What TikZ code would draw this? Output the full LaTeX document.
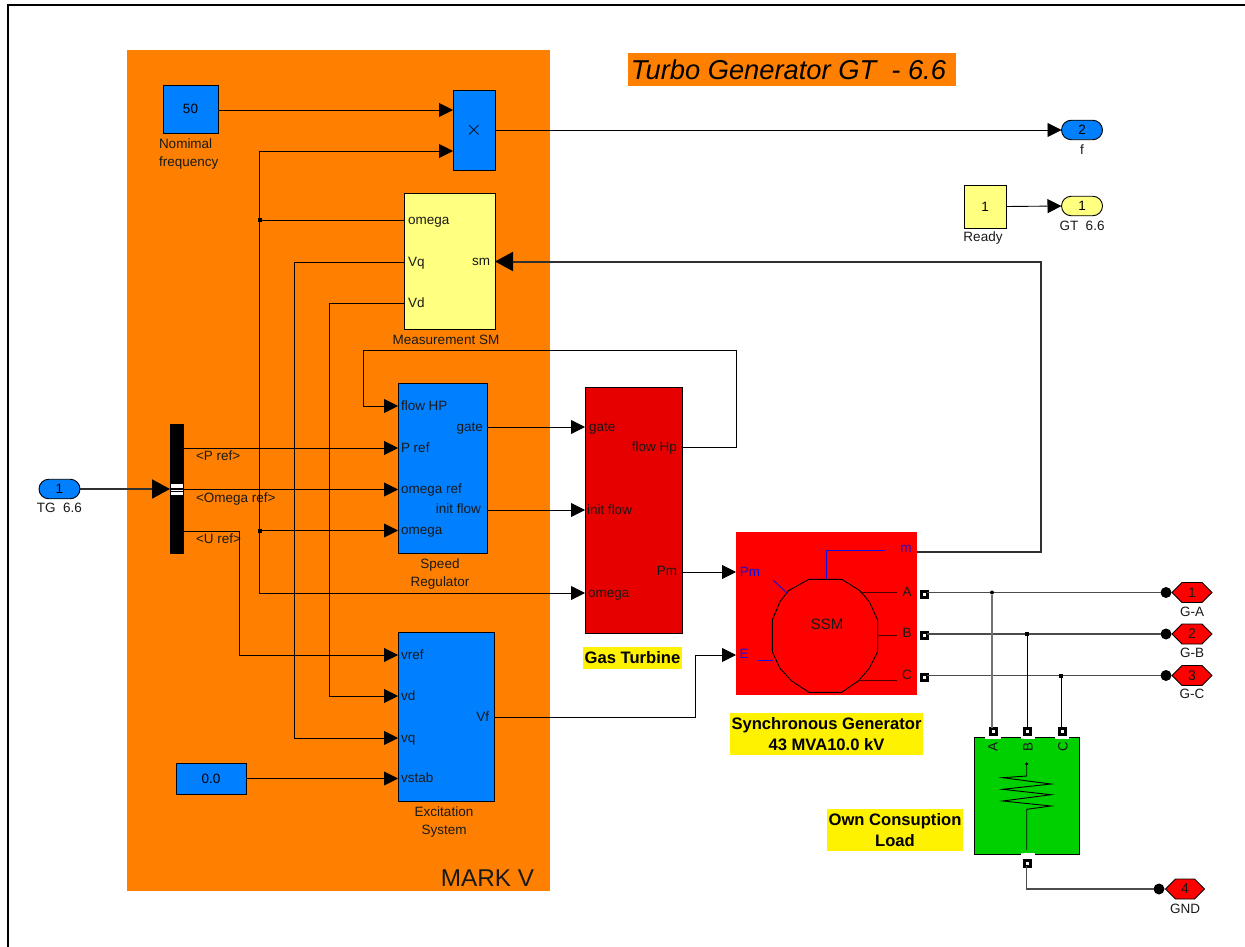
\documentclass[tikz,border=0pt]{standalone}
\usepackage{fontspec}
\setmainfont{Liberation Sans}
\usetikzlibrary{arrows.meta,shapes.misc,shapes.geometric}
\definecolor{org}{HTML}{FF8000}
\definecolor{blu}{HTML}{0080FF}
\definecolor{lyel}{HTML}{FFFF80}
\definecolor{dred}{HTML}{E60000}
\definecolor{grn}{HTML}{00D000}
\definecolor{wire}{HTML}{303030}
\definecolor{ssmblue}{HTML}{1010E0}
\tikzset{
  x=1pt,y=-1pt,
  blk/.style={draw=black,line width=0.9pt,inner sep=0pt,outer sep=0pt,anchor=north west},
  lbl/.style={inner sep=0pt,outer sep=0pt,font=\fontsize{13.5}{17.5}\selectfont,text=black!90,align=center},
  portbase/.style={inner sep=0pt,outer sep=0pt,font=\fontsize{13.5}{17.5}\selectfont,text=black!90,text height=8.6pt,text depth=0pt},
  portl/.style={portbase,anchor=west},
  portr/.style={portbase,anchor=east},
  sig/.style={line width=0.9pt,draw=black,-{Triangle[length=14pt,width=14pt]}},
  sigbig/.style={line width=2pt,draw=wire,-{Triangle[length=18pt,width=19pt,color=black,fill=black]}},
  line/.style={line width=0.9pt,draw=black},
  pow/.style={line width=1.1pt,draw=black!70},
  dot/.style={circle,fill=black,inner sep=0pt,minimum size=4pt,outer sep=0pt},
  sqdot/.style={rectangle,fill=black,inner sep=0pt,minimum size=4pt,outer sep=0pt},
  term/.style={circle,fill=black,inner sep=0pt,minimum size=11pt,outer sep=0pt},
  cport/.style={draw=black,line width=3pt,fill=white,inner sep=0pt,minimum size=6pt,outer sep=0pt},
  pill/.style={draw=black,line width=0.9pt,rounded rectangle,minimum width=41pt,minimum height=19.5pt,inner sep=0pt,outer sep=0pt,font=\fontsize{13.5}{15}\selectfont},
  note/.style={fill=yellow,inner sep=0pt,outer sep=0pt,anchor=north west,font=\fontsize{16.6}{20.5}\selectfont\bfseries,align=center,text=black},
  ssmline/.style={line width=0.9pt,draw=ssmblue},
  ssmdark/.style={line width=0.9pt,draw=black!70!red},
  ssmlbl/.style={inner sep=0pt,outer sep=0pt,text=ssmblue,font=\fontsize{13.5}{15}\selectfont},
}
\newcommand{\hexpath}[5]{% name cx cy halfwidth text
  \draw[line width=0.9pt,fill=red] (#2-#4,#3) -- (#2-#4+10,#3-10) -- (#2+#4-10,#3-10) -- (#2+#4,#3) -- (#2+#4-10,#3+10) -- (#2-#4+10,#3+10) -- cycle;
  \node[lbl,font=\fontsize{14}{15}\selectfont] (#1) at (#2,#3) {#5};
}
\begin{document}
\begin{tikzpicture}
\useasboundingbox (0,0) rectangle (1245,947);
\fill[white] (0,0) rectangle (1245,947);
\draw[line width=2pt,black] (8,947) -- (8,5) -- (1245,5);
% orange area
\node[anchor=north west,fill=org,minimum width=423pt,minimum height=841pt,inner sep=0pt,outer sep=0pt] (mark) at (127,50) {};
\node[lbl,font=\fontsize{24.3}{26}\selectfont] (marklbl) at (487.5,878) {MARK V};
\node[anchor=north west,fill=org,minimum width=328pt,minimum height=33pt,inner sep=0pt,outer sep=0pt] (titlebox) at (628,53) {};
\node[inner sep=0pt,outer sep=0pt,font=\fontsize{27.3}{29}\selectfont\itshape] (title) at (788.5,69.5) {Turbo Generator GT\ \ - 6.6};
% blocks
\node[blk,fill=blu,minimum width=55pt,minimum height=48pt,font=\fontsize{13.5}{15}\selectfont] (c50) at (163,85) {50};
\node[lbl,align=left,anchor=north west] (c50l) at (159,139) {Nomimal\\frequency};
\node[blk,fill=blu,minimum width=42pt,minimum height=80pt,font=\fontsize{20}{20}\selectfont] (prod) at (453,90) {$\times$};
\node[blk,fill=lyel,minimum width=91pt,minimum height=136pt] (meas) at (404,193) {};
\node[lbl] (measl) at (446,340) {Measurement SM};
\node[blk,fill=blu,minimum width=89pt,minimum height=170pt] (speed) at (398,383) {};
\node[lbl] (speedl) at (440,574) {Speed\\Regulator};
\node[blk,fill=blu,minimum width=96pt,minimum height=169pt] (exc) at (398,632) {};
\node[lbl] (excl) at (444,822) {Excitation\\System};
\node[blk,fill=blu,minimum width=70pt,minimum height=31pt,font=\fontsize{13.5}{15}\selectfont] (c00) at (176,763) {0.0};
\node[blk,fill=dred,minimum width=97pt,minimum height=246pt] (gas) at (585,387) {};
\node[anchor=north west,fill=yellow,minimum width=99pt,minimum height=22pt,inner sep=0pt,outer sep=0pt,font=\fontsize{16.6}{17}\selectfont\bfseries] (gasl) at (583,647) {Gas Turbine};
\node[anchor=north west,fill=black,minimum width=14pt,minimum height=130pt,inner sep=0pt,outer sep=0pt] (mux) at (170,423.5) {};
\fill[white] (171,484) rectangle (183,487.5);
\fill[white] (171,489.5) rectangle (183,491);
\fill[white] (171,492) rectangle (183,495);
\node[pill,fill=blu] (in1) at (59.5,489) {1};
\node[lbl] (in1l) at (59.5,508) {TG\ \ 6.6};
% SSM
\node[anchor=north west,fill=red,minimum width=181pt,minimum height=163pt,inner sep=0pt,outer sep=0pt] (ssm) at (736,532) {};
\draw[line width=0.9pt,black] (809,579.3) -- (841.7,579.3) -- (860,590.7) -- (869.3,601.7) -- (877.7,620) -- (877.7,651.7) -- (869.3,668.3) -- (858.3,681) -- (841.7,692.3) -- (809,692.3) -- (791.7,681) -- (780,668.3) -- (772.3,651.7) -- (772.3,620) -- (780,601.7) -- (788.3,590.7) -- cycle;
\node[lbl,font=\fontsize{15}{15}\selectfont] (ssmt) at (827,624) {SSM};
\coordinate (mtip) at (885,550.3);
\coordinate (rtop) at (826,579.3);
\draw[ssmline] (rtop) -- (826,550.3) -- (mtip);
\coordinate (pmtip) at (773,580);
\coordinate (pmbase) at (788,594);
\draw[ssmline] (pmtip) -- (pmbase);
\coordinate (etip) at (758,660);
\coordinate (ebase) at (773,660);
\draw[ssmline] (etip) -- (ebase);
\coordinate (atip) at (897,592);
\coordinate (btip) at (897,635);
\coordinate (ctip) at (897,680);
\coordinate (abase) at (860,592);
\coordinate (bbase) at (877.7,635);
\coordinate (cbase) at (860,680);
\draw[ssmdark] (abase) -- (atip);
\draw[ssmdark] (bbase) -- (btip);
\draw[ssmdark] (cbase) -- (ctip);
\node[ssmlbl] (ssmm) at (906,549) {m};
\node[ssmlbl] (ssmp) at (750,572) {Pm};
\node[ssmlbl] (ssme) at (744,654) {E};
\node[lbl] (ssma) at (907,592) {A};
\node[lbl] (ssmb) at (907,633) {B};
\node[lbl] (ssmc) at (907,675) {C};
\node[note,minimum width=193pt,minimum height=42pt] (ssmn) at (730,713) {Synchronous Generator\\43 MVA10.0 kV};
% ports of SSM
\node[cport] (pa) at (924,594) {};
\node[cport] (pb) at (924,635) {};
\node[cport] (pc) at (924,677) {};
% load
\node[blk,fill=grn,minimum width=105pt,minimum height=117pt] (load) at (974,737) {};
\fill[white] (985,735.5) rectangle (1001,738.5);
\fill[white] (1021,735.5) rectangle (1035,738.5);
\fill[white] (1055,735.5) rectangle (1069,738.5);
\fill[white] (1021,852.5) rectangle (1035,855.5);
\node[cport] (la) at (993,731) {};
\node[cport] (lb) at (1027.5,731) {};
\node[cport] (lc) at (1062,731) {};
\node[cport] (lg) at (1027.5,863) {};
\node[lbl,rotate=90] (lat) at (993,747) {A};
\node[lbl,rotate=90] (lbt) at (1028,747) {B};
\node[lbl,rotate=90] (lct) at (1063,747) {C};
\node[dot,minimum size=3.5pt] (r1) at (1026.7,764) {};
\draw[line width=0.9pt,black] (r1) -- (1026.7,776) -- (1002.7,777.7) -- (1051,784) -- (1002.7,789.3) -- (1051,794.7) -- (1002.7,801) -- (1051,806) -- (1026.7,809.3) -- (1026.7,850);
\node[note,minimum width=136pt,minimum height=42pt] (loadn) at (827,809) {Own Consuption\\Load};
% terminals
\node[term] (t1) at (1166,592.5) {};
\node[term] (t2) at (1166,634) {};
\node[term] (t3) at (1166,675.5) {};
\node[term] (t4) at (1159,889) {};
\hexpath{h1}{1192}{592.5}{20}{1}
\hexpath{h2}{1192}{634}{20}{2}
\hexpath{h3}{1192}{675.5}{20}{3}
\hexpath{h4}{1185}{889}{19.5}{4}
\node[lbl] (h1l) at (1192,612) {G-A};
\node[lbl] (h2l) at (1192,653) {G-B};
\node[lbl] (h3l) at (1192,694) {G-C};
\node[lbl] (h4l) at (1185,909) {GND};
% outports
\node[pill,fill=blu] (o2) at (1082,130) {2};
\node[lbl] (o2l) at (1082,150) {f};
\node[blk,fill=lyel,minimum width=42pt,minimum height=43pt,font=\fontsize{13.5}{15}\selectfont] (rdy) at (964,185) {1};
\node[lbl] (rdyl) at (983,238) {Ready};
\node[pill,fill=lyel] (o1) at (1082,206) {1};
\node[lbl] (o1l) at (1082,226) {GT\ \ 6.6};
% port labels
\node[portl] (m1) at (408,220) {omega};
\node[portl] (m2) at (408,262) {Vq};
\node[portl] (m3) at (408,303) {Vd};
\node[portr] (m4) at (490,261) {sm};
\node[portl] (s1) at (401,406) {flow HP};
\node[portl] (s2) at (401,448) {P ref};
\node[portl] (s3) at (401,489.5) {omega ref};
\node[portl] (s4) at (401,530.5) {omega};
\node[portr] (s5) at (483,427) {gate};
\node[portr] (s6) at (481,509) {init flow};
\node[portl] (e1) at (401,655) {vref};
\node[portl] (e2) at (401,696) {vd};
\node[portl] (e3) at (401,738) {vq};
\node[portl] (e4) at (401,778) {vstab};
\node[portr] (e5) at (489,717) {Vf};
\node[portl] (g1) at (589,427) {gate};
\node[portl] (g2) at (587,510) {init flow};
\node[portl] (g3) at (588,593) {omega};
\node[portr] (g4) at (677,447) {flow Hp};
\node[portr] (g5) at (677,571) {Pm};
\node[portl] (x1) at (196,456) {<P ref>};
\node[portl] (x2) at (196,498) {<Omega ref>};
\node[portl] (x3) at (196,539) {<U ref>};
% junctions
\coordinate (j1) at (259.5,220);
\coordinate (j2) at (259.5,530.5);
\node[sqdot] (jd1) at (j1) {};
\node[sqdot] (jd2) at (j2) {};
% connectors
\draw[sig] (c50.east |- 0,110) -- (prod.west |- 0,110);
\draw[sig] (j1) -- (259.5,151) -- (prod.west |- 0,151);
\draw[line] (j1) -- (meas.west |- j1);
\draw[sig] (prod.east) -- (o2.west);
\draw[sig] (rdy.east) -- (o1.west);
\draw[line] (meas.west |- 0,262) -- (294,262) -- (294,738);
\draw[sig] (294,738) -- (exc.west |- 0,738);
\draw[line] (meas.west |- 0,303) -- (329,303) -- (329,696);
\draw[sig] (329,696) -- (exc.west |- 0,696);
\draw[sigbig] (ssm.east |- 0,551.5) -- (1041,551.5) -- (1041,261.5) -- (meas.east |- 0,261.5);
\draw[sig] (gas.east |- 0,447) -- (736,447) -- (736,350) -- (363,350) -- (363,406) -- (speed.west |- 0,406);
\draw[sig] (mux.east |- 0,448) -- (speed.west |- 0,448);
\draw[sig] (mux.east |- 0,489.5) -- (speed.west |- 0,489.5);
\draw[sig] (j2) -- (speed.west |- j2);
\draw[sig] (mux.east |- 0,531) -- (239,531) -- (239,655) -- (exc.west |- 0,655);
\draw[sig] (j2) -- (259.5,593) -- (gas.west |- 0,593);
\draw[line] (j1) -- (j2);
\draw[sig] (speed.east |- 0,427) -- (gas.west |- 0,427);
\draw[sig] (speed.east |- 0,510) -- (gas.west |- 0,510);
\draw[sig] (gas.east |- 0,572) -- (ssm.west |- 0,572);
\draw[sig] (exc.east |- 0,717) -- (695,717) -- (695,655) -- (ssm.west |- 0,655);
\draw[sig] (c00.east) -- (exc.west |- c00.east);
\draw[line width=2pt,draw=wire,-{Triangle[length=18pt,width=19pt,color=black,fill=black]}] (in1.east) -- (mux.west |- in1.east);
% power
\draw[pow] (pa.east |- t1) -- (t1);
\draw[pow] (pb.east |- t2) -- (t2);
\draw[pow] (pc.east |- t3) -- (t3);
\node[dot,minimum size=4pt] (ja) at (992,592.5) {};
\node[sqdot,minimum size=4pt] (jb) at (1027,634) {};
\node[sqdot,minimum size=4pt] (jc) at (1061,675.5) {};
\draw[line width=1.4pt,draw=black!55] (ja) -- (ja |- la.north);
\draw[line width=1pt,black] (jb) -- (jb |- lb.north);
\draw[line width=1pt,black] (jc) -- (jc |- lc.north);
\draw[pow] (lg.south -| 1026.5,0) -- (1026.5,889) -- (t4);
\end{tikzpicture}
\end{document}
